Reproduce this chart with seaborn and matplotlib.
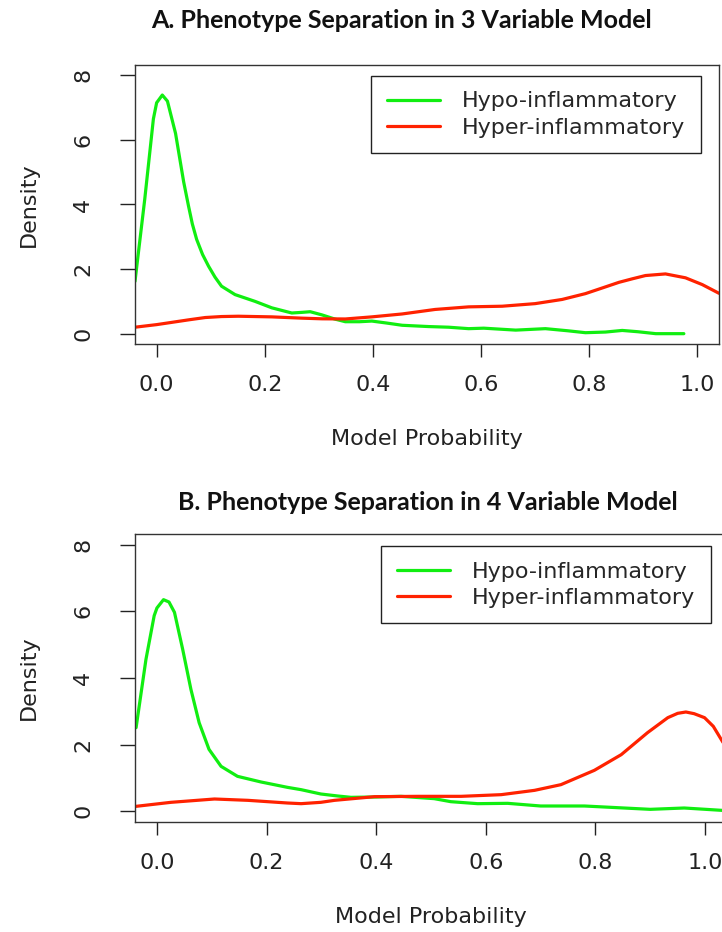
import pandas as pd
import seaborn as sns
import matplotlib.pyplot as plt

# values (density curves)
hypo_x_a = [-0.04, -0.022, -0.006, 0.0, 0.0105, 0.02, 0.035, 0.043, 0.05, 0.059, 0.066, 0.074,
            0.085, 0.096, 0.108, 0.12, 0.145, 0.182, 0.213, 0.25, 0.269, 0.284, 0.306, 0.33,
            0.349, 0.375, 0.398, 0.425, 0.454, 0.503, 0.54, 0.577, 0.605, 0.664, 0.719, 0.76,
            0.793, 0.83, 0.861, 0.89, 0.923, 0.975]
hypo_y_a = [1.62, 4.16, 6.65, 7.15, 7.39, 7.2, 6.2, 5.4, 4.7, 3.95, 3.4, 2.92,
            2.45, 2.09, 1.75, 1.47, 1.21, 1.0, 0.80, 0.64, 0.66, 0.68, 0.58, 0.45,
            0.37, 0.37, 0.39, 0.33, 0.26, 0.22, 0.2, 0.155, 0.17, 0.11, 0.155, 0.09,
            0.03, 0.05, 0.1, 0.06, 0.0, 0.0]
hyper_x_a = [-0.04, 0.0, 0.028, 0.06, 0.09, 0.12, 0.151, 0.213, 0.269, 0.306, 0.349, 0.398,
             0.454, 0.515, 0.577, 0.639, 0.70, 0.75, 0.793, 0.825, 0.855, 0.88, 0.904, 0.941,
             0.978, 1.009, 1.04]
hyper_y_a = [0.2, 0.28, 0.35, 0.43, 0.5, 0.53, 0.54, 0.52, 0.48, 0.46, 0.455, 0.52,
             0.61, 0.75, 0.83, 0.85, 0.93, 1.06, 1.24, 1.42, 1.59, 1.7, 1.8, 1.85,
             1.73, 1.52, 1.25]

hypo_x_b = [-0.038, -0.02, -0.005, 0.0, 0.012, 0.022, 0.032, 0.047, 0.062, 0.077, 0.095, 0.117,
            0.147, 0.19, 0.238, 0.263, 0.299, 0.33, 0.354, 0.4, 0.445, 0.506, 0.536, 0.585,
            0.64, 0.70, 0.78, 0.84, 0.90, 0.962, 1.04]
hypo_y_b = [2.51, 4.56, 5.87, 6.1, 6.35, 6.28, 5.97, 4.86, 3.66, 2.66, 1.86, 1.35,
            1.05, 0.88, 0.72, 0.65, 0.52, 0.46, 0.42, 0.43, 0.45, 0.38, 0.29, 0.23,
            0.24, 0.16, 0.16, 0.11, 0.06, 0.1, 0.02]
hyper_x_b = [-0.038, 0.0255, 0.105, 0.166, 0.238, 0.263, 0.299, 0.324, 0.397, 0.476, 0.555,
             0.628, 0.689, 0.737, 0.798, 0.847, 0.895, 0.932, 0.95, 0.965, 0.98, 0.999,
             1.015, 1.033, 1.05]
hyper_y_b = [0.15, 0.27, 0.37, 0.33, 0.25, 0.23, 0.27, 0.33, 0.44, 0.45, 0.45,
             0.5, 0.63, 0.8, 1.23, 1.7, 2.36, 2.81, 2.94, 2.98, 2.93, 2.81,
             2.55, 2.06, 1.7]

labels = ["Hypo-inflammatory", "Hyper-inflammatory"]
colors = ["#11ee11", "#ff2200"]
titles = ["A. Phenotype Separation in 3 Variable Model",
          "B. Phenotype Separation in 4 Variable Model"]

sns.set_style("ticks")
plt.rcParams["font.family"] = ["DejaVu Sans"]

fig = plt.figure(figsize=(7.22, 9.32), dpi=100)
ax_a = fig.add_axes([135 / 722, 1 - 344 / 932, 584 / 722, 279 / 932])
ax_b = fig.add_axes([135 / 722, 1 - 822 / 932, 592 / 722, 288 / 932])

panels = [
    (ax_a, hypo_x_a, hypo_y_a, hyper_x_a, hyper_y_a, (0.969, 0.961), (402, 20)),
    (ax_b, hypo_x_b, hypo_y_b, hyper_x_b, hyper_y_b, (0.973, 0.958), (428, 503)),
]

for i, (ax, hx, hy, rx, ry, leg_pos, tpos) in enumerate(panels):
    sns.lineplot(x=hx, y=hy, ax=ax, color=colors[0], linewidth=2.3,
                 label=labels[0], estimator=None, sort=False)
    sns.lineplot(x=rx, y=ry, ax=ax, color=colors[1], linewidth=2.3,
                 label=labels[1], estimator=None, sort=False)

    ax.set_xlim(-0.04, 1.04)
    ax.set_ylim(-0.32, 8.32)
    ax.set_xticks([0.0, 0.2, 0.4, 0.6, 0.8, 1.0])
    ax.set_xticklabels(["0.0", "0.2", "0.4", "0.6", "0.8", "1.0"])
    ax.set_yticks([0, 2, 4, 6, 8])
    ax.set_yticklabels(["0", "2", "4", "6", "8"], rotation=90, va="center")
    ax.tick_params(axis="x", length=9.5, width=1, pad=13, labelsize=16, colors="#222222")
    ax.tick_params(axis="y", length=11, width=1, pad=19, labelsize=16, colors="#222222")
    for s in ax.spines.values():
        s.set_visible(True)
        s.set_linewidth(1.0)
        s.set_color("#333333")

    ax.set_xlabel("Model Probability", fontsize=16, color="#222222", labelpad=24)
    ax.set_ylabel("Density", fontsize=16, color="#222222", labelpad=25)

    ax.legend(loc="upper right", bbox_to_anchor=leg_pos, borderaxespad=0,
              fontsize=16, frameon=True, fancybox=False, edgecolor="#222222",
              framealpha=1, borderpad=0.7, labelspacing=0.28,
              handlelength=2.4, handletextpad=1.0).get_frame().set_linewidth(1.0)

    fig.text(tpos[0] / 722, 1 - tpos[1] / 932, titles[i], ha="center", va="center",
             fontsize=18, fontweight="bold", family="Lato", color="#111111")

plt.savefig("out.png", dpi=100)
